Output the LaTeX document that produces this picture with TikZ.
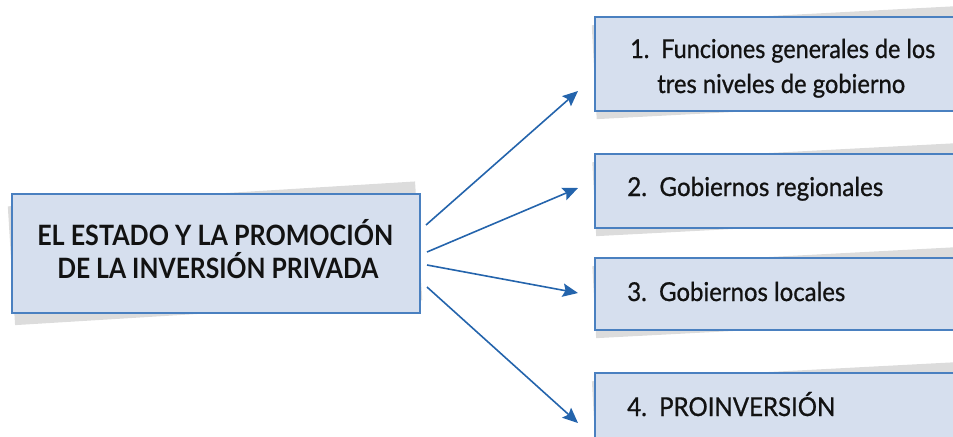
\documentclass[tikz,border=0pt]{standalone}
\usepackage{fontspec}
\setmainfont{Lato}
\newfontfamily\medfont[FakeBold=0.8]{Lato}
\usetikzlibrary{arrows.meta}
\newdimen\pxu \pxu=0.75pt
\newcommand\fitw[2]{\resizebox{#1\pxu}{\height}{#2}}
\definecolor{boxfill}{RGB}{214,223,238}
\definecolor{boxline}{RGB}{74,128,192}
\definecolor{arrowc}{RGB}{36,100,172}
\definecolor{shadowc}{RGB}{220,220,220}
\definecolor{textc}{RGB}{18,18,18}
\tikzset{
  panel/.style={draw=boxline, line width=1.5pt, fill=boxfill, inner sep=0pt, anchor=north west},
  shade/.style={fill=shadowc},
  lefttext/.style={anchor=base west, inner sep=0pt, text=textc, font=\fontsize{21pt}{22pt}\selectfont\bfseries},
  righttext/.style={anchor=base west, inner sep=0pt, text=textc, font=\fontsize{19.5pt}{21pt}\medfont},
  link/.style={draw=arrowc, line width=1.2pt, -{Stealth[length=11.5pt, width=10pt, inset=2pt]}}
}
\begin{document}
\begin{tikzpicture}[x=0.75pt, y=-0.75pt]
\useasboundingbox (0,0) rectangle (953,436);
\clip (0,0) rectangle (953,436);
% shadows
\fill[shade, rotate around={3.5:(228,252)}] (11,193) rectangle (419,312);
\fill[shade, rotate around={3:(770,63)}] (594,16) rectangle (1000,110);
\fill[shade, rotate around={3:(770,190)}] (594,153) rectangle (1000,227);
\fill[shade, rotate around={3:(770,293)}] (594,257) rectangle (1000,329);
\fill[shade, rotate around={3:(770,416)}] (594,372) rectangle (1000,460);
% boxes
\node[panel, minimum width=408\pxu, minimum height=119\pxu] (L) at (11,193) {};
\node[panel, minimum width=406\pxu, minimum height=94\pxu] (B1) at (594,16) {};
\node[panel, minimum width=406\pxu, minimum height=74\pxu] (B2) at (594,153) {};
\node[panel, minimum width=406\pxu, minimum height=72\pxu] (B3) at (594,257) {};
\node[panel, minimum width=406\pxu, minimum height=88\pxu] (B4) at (594,372) {};
% texts
\node[lefttext] (La) at (37,245) {\fitw{356}{EL ESTADO Y LA PROMOCIÓN}};
\node[lefttext] (Lb) at (57,278) {\fitw{321}{DE LA INVERSIÓN PRIVADA}};
\node[righttext] (T1a) at (630,58) {\fitw{305}{1.\ \ Funciones generales de los}};
\node[righttext] (T1b) at (657,93) {\fitw{248}{tres niveles de gobierno}};
\node[righttext] (T2) at (627,196) {\fitw{256}{2.\ \ Gobiernos regionales}};
\node[righttext] (T3) at (627,301) {\fitw{218}{3.\ \ Gobiernos locales}};
\node[righttext] (T4) at (627,416) {\fitw{208}{4.\ \ PROINVERSIÓN}};
% arrow ends
\coordinate (s1) at (426,225);
\coordinate (s2) at (427,252);
\coordinate (s3) at (427,265);
\coordinate (s4) at (427,287);
\coordinate (e1) at (578,91);
\coordinate (e2) at (578,188);
\coordinate (e3) at (578,293);
\coordinate (e4) at (578,423);
\draw[link] (s1) -- (e1);
\draw[link] (s2) -- (e2);
\draw[link] (s3) -- (e3);
\draw[link] (s4) -- (e4);
\end{tikzpicture}
\end{document}
